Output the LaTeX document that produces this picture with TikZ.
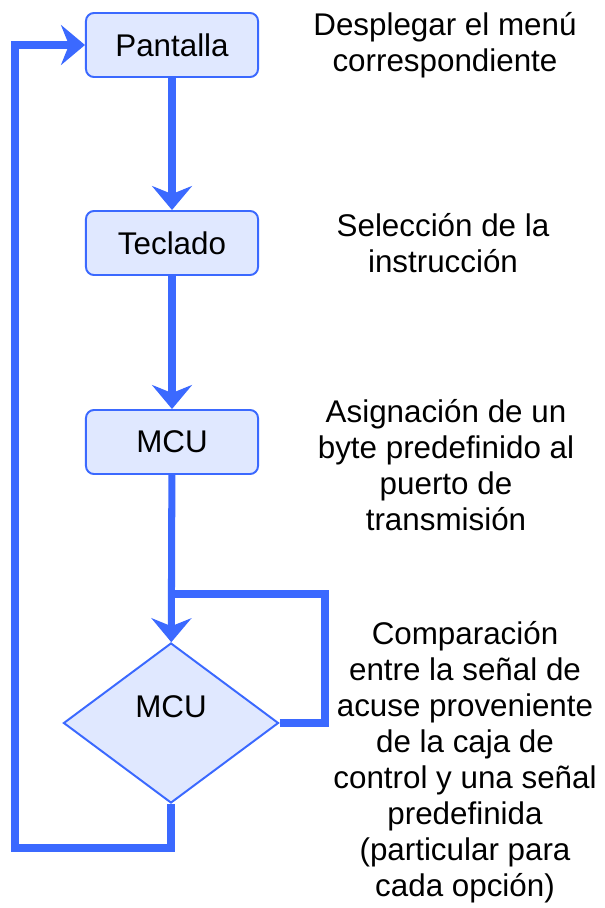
\documentclass[tikz,border=0pt]{standalone}
\usepackage{fontspec}
\setmainfont{Liberation Sans}
\usetikzlibrary{shapes.geometric,arrows.meta}
\definecolor{flowblue}{RGB}{59,105,255}
\definecolor{boxfill}{RGB}{224,232,255}
\tikzstyle{box}=[rectangle,draw=flowblue,line width=1.4pt,fill=boxfill,rounded corners=0.2cm,minimum width=4.3cm,minimum height=1.6cm,text=black]
\tikzstyle{decision}=[diamond,draw=flowblue,line width=1.4pt,fill=boxfill,inner sep=0pt,minimum width=5.375cm,minimum height=4cm]
\tikzstyle{note}=[align=center,text=black]
\tikzstyle{flow}=[flowblue,line width=5pt,line join=miter]
\tikzstyle{flowA}=[flow,-{Stealth[length=0.6cm,width=1cm,inset=0.2cm]}]

\begin{document}
\begin{tikzpicture}[x=0.025cm,y=-0.025cm,font=\fontsize{22.3}{25.6}\selectfont]
  \useasboundingbox (0,0) rectangle (605,908);

  \node[box] (pant) at (172,45) {Pantalla};
  \node[box] (tecl) at (172,243) {Teclado};
  \node[box] (mcu) at (172,442) {MCU};
  \node[decision,label={[yshift=0.4cm]center:MCU}] (dec) at (171,723) {};

  \node[note] (n1) at (445,45) {Desplegar el menú\\correspondiente};
  \node[note] (n2) at (443,243) {Selección de la\\instrucción};
  \node[note] (n3) at (446,465) {Asignación de un\\byte predefinido al\\puerto de\\transmisión};
  \node[note] (n4) at (465,762) {Comparación\\entre la señal de\\acuse proveniente\\de la caja de\\control y una señal\\predefinida\\(particular para\\cada opción)};

  \coordinate (join) at (172,594);
  \coordinate (fb) at (325,594);
  \coordinate (back) at (15,848);

  \draw[flowA] (pant)--(tecl); \draw[flowA] (tecl)--(mcu); \draw[flowA] (mcu)--(dec);
  \draw[flow] (dec.east)-|(fb)--(join);
  \draw[flowA] (dec.south)|-(back)|-(pant.west);

\end{tikzpicture}
\end{document}
